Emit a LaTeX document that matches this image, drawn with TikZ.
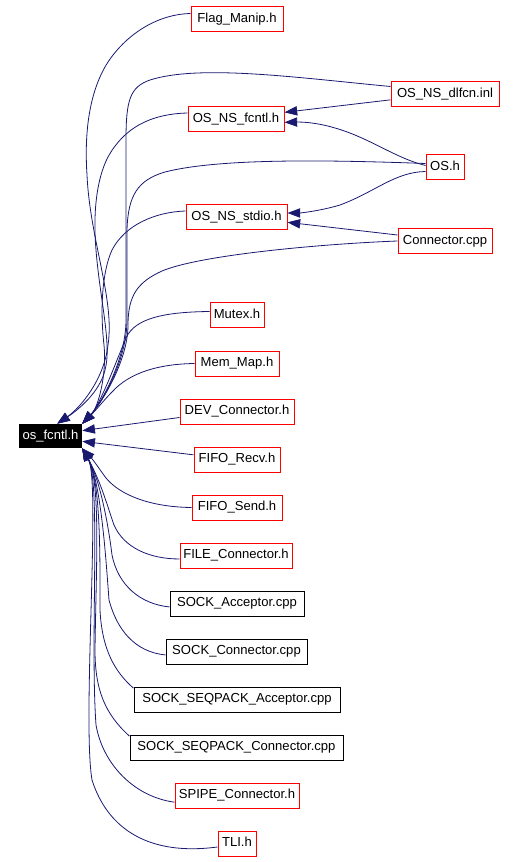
\documentclass[tikz,border=0pt]{standalone}
\usepackage{fontspec}
\setmainfont{Liberation Sans}
\usetikzlibrary{arrows.meta}
\definecolor{edgeblue}{RGB}{25,25,112}

\begin{document}
\begin{tikzpicture}
		[x=0.75pt, y=-0.75pt,
		every node/.style={rectangle, inner sep=0pt, minimum height=18.75pt, text height=7pt, text depth=2pt, font=\fontsize{9.8pt}{11pt}\selectfont},
		hdr/.style={draw=red, line width=0.75pt},
		cpp/.style={draw=black, line width=0.75pt},
		dep/.style={draw=edgeblue, line width=0.6pt, -{Triangle[length=9.5pt, width=7pt]}}]
		\useasboundingbox (0,0) rectangle (515,862);
		
		\node[fill=black, text=white, minimum width=47.25pt, minimum height=18pt] (os) at (50.5,436) {os\_fcntl.h};
		
		\node[hdr, minimum width=69pt] (flag) at (237,19.5) {Flag\_Manip.h};
		\node[hdr, minimum width=72pt] (nsfcntl) at (236,119) {OS\_NS\_fcntl.h};
		\node[hdr, minimum width=75.75pt] (stdio) at (236.5,217) {OS\_NS\_stdio.h};
		\node[hdr, minimum width=40.5pt] (mutex) at (237,315.5) {Mutex.h};
		\node[hdr, minimum width=63pt] (memmap) at (237,363.5) {Mem\_Map.h};
		\node[hdr, minimum width=85.5pt] (dev) at (237,411.5) {DEV\_Connector.h};
		\node[hdr, minimum width=64.5pt] (recv) at (237,459.5) {FIFO\_Recv.h};
		\node[hdr, minimum width=67.5pt] (send) at (237,507.5) {FIFO\_Send.h};
		\node[hdr, minimum width=84pt] (file) at (236,555.5) {FILE\_Connector.h};
		\node[cpp, minimum width=100.5pt] (sockacc) at (237,603.5) {SOCK\_Acceptor.cpp};
		\node[cpp, minimum width=105.75pt] (sockcon) at (236.5,651.5) {SOCK\_Connector.cpp};
		\node[cpp, minimum width=154.5pt] (seqacc) at (237,699.5) {SOCK\_SEQPACK\_Acceptor.cpp};
		\node[cpp, minimum width=159.75pt] (seqcon) at (236.5,747.5) {SOCK\_SEQPACK\_Connector.cpp};
		\node[hdr, minimum width=93pt] (spipe) at (237,795.5) {SPIPE\_Connector.h};
		\node[hdr, minimum width=28.5pt] (tli) at (237,843.5) {TLI.h};
		
		\node[hdr, minimum width=81pt] (dlfcn) at (445,94.5) {OS\_NS\_dlfcn.inl};
		\node[hdr, minimum width=28.5pt] (osh) at (445,167.5) {OS.h};
		\node[hdr, minimum width=70.5pt] (conn) at (445,241) {Connector.cpp};
		
		% right column into the middle
		\draw[dep] ([yshift=-4pt]dlfcn.west) -- ([yshift=5pt]nsfcntl.east);
		\draw[dep] ([yshift=1.5pt]osh.west) .. controls (395,158) and (370,138) .. (335,128)
			.. controls (315,122) and (300,122) .. ([yshift=-2.5pt]nsfcntl.east);
		\draw[dep] ([yshift=-3pt]osh.west) .. controls (395,172) and (375,192) .. (340,205)
			.. controls (320,211) and (300,213) .. ([yshift=3pt]stdio.east);
		\draw[dep] ([yshift=4.5pt]conn.west) -- ([yshift=-4pt]stdio.east);
		
		% upper bundle
		\draw[dep] ([yshift=4.5pt]flag.west) .. controls (160,14) and (128,32) .. (108,62)
			.. controls (90,90) and (84,130) .. (87,175)
			.. controls (90,240) and (115,300) .. (108,345)
			.. controls (104,380) and (80,408) .. ([xshift=5pt]os.north);
		\draw[dep] ([yshift=4.5pt]nsfcntl.west) .. controls (150,114) and (124,128) .. (108,157)
			.. controls (96,180) and (93,215) .. (96,250)
			.. controls (100,300) and (112,345) .. (105,370)
			.. controls (100,392) and (78,410) .. ([xshift=5pt]os.north);
		\draw[dep] ([yshift=4.5pt]stdio.west) .. controls (155,212) and (125,225) .. (112,250)
			.. controls (102,272) and (100,310) .. (104,345)
			.. controls (107,375) and (98,408) .. (os.north east);
		\draw[dep] ([yshift=6pt]dlfcn.west) .. controls (300,78) and (200,64) .. (150,80)
			.. controls (130,87) and (126,100) .. (126,140) -- (126,320)
			.. controls (126,360) and (100,405) .. (os.north east);
		\draw[dep] ([yshift=3pt]osh.west) .. controls (330,160) and (220,158) .. (165,172)
			.. controls (138,180) and (128,195) .. (127,230) -- (127,320)
			.. controls (127,362) and (100,405) .. (os.north east);
		\draw[dep] (conn.west) .. controls (320,244) and (200,255) .. (162,271)
			.. controls (138,282) and (128,295) .. (128,325)
			.. controls (128,362) and (100,405) .. (os.north east);
		\draw[dep] ([yshift=3pt]mutex.west) .. controls (165,312) and (135,318) .. (126,338)
			.. controls (116,362) and (100,405) .. (os.north east);
		\draw[dep] (memmap.west) .. controls (160,364) and (130,372) .. (112,392)
			.. controls (104,400) and (98,408) .. (os.north east);
		
		% straight ones
		\draw[dep] ([yshift=-4.5pt]dev.west) -- ([yshift=4pt]os.east);
		\draw[dep] ([yshift=3.5pt]recv.west) -- ([yshift=-4pt]os.east);
		
		% lower bundle
		\draw[dep] (send.west) .. controls (150,507) and (120,495) .. (106,478)
			.. controls (100,470) and (95,462) .. (os.south east);
		\draw[dep] ([yshift=-2.6pt]file.west) .. controls (150,559) and (124,548) .. (114,525)
			.. controls (108,508) and (101,482) .. (os.south east);
		\draw[dep] ([yshift=-2.6pt]sockacc.west) .. controls (140,604) and (118,585) .. (112,555)
			.. controls (109,530) and (101,482) .. (os.south east);
		\draw[dep] ([yshift=-2.6pt]sockcon.west) .. controls (135,652) and (117,630) .. (109,600)
			.. controls (106,560) and (101,482) .. (os.south east);
		\draw[dep] ([yshift=8.5pt]seqacc.west) .. controls (115,672) and (102,650) .. (100,610)
			.. controls (100,560) and (101,482) .. (os.south east);
		\draw[dep] ([yshift=8.5pt]seqcon.west) .. controls (105,714) and (95,690) .. (95,650)
			.. controls (96,570) and (101,482) .. (os.south east);
		\draw[dep] ([yshift=-5pt]spipe.west) .. controls (135,797) and (103,765) .. (96,725)
			.. controls (90,640) and (101,482) .. (os.south east);
		\draw[dep] ([yshift=-2.6pt]tli.west) .. controls (150,856) and (108,830) .. (92,780)
			.. controls (82,720) and (101,482) .. (os.south east);
\end{tikzpicture}
\end{document}
